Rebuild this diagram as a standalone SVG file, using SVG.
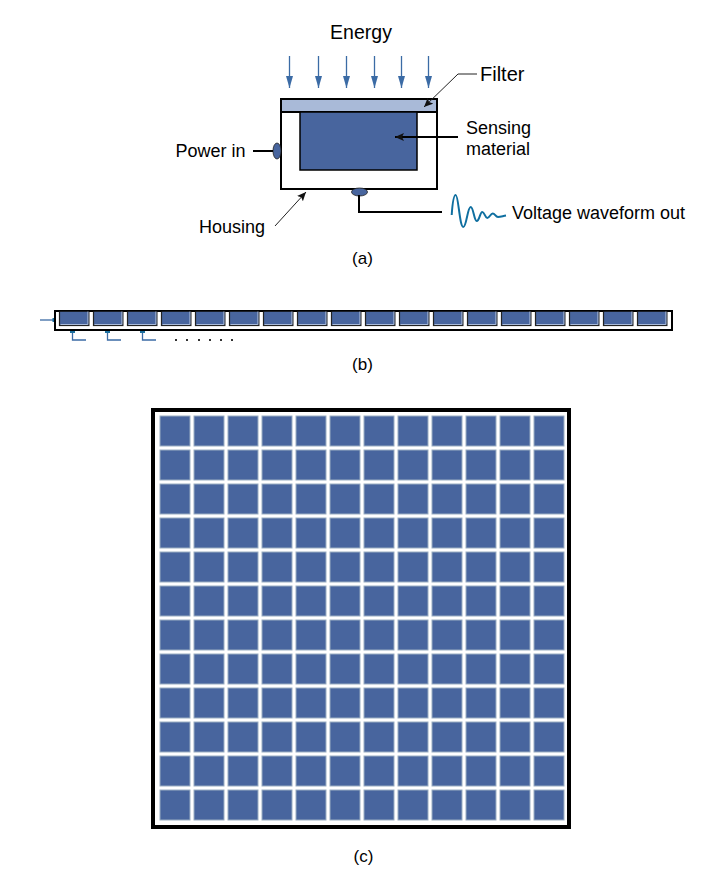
<svg xmlns="http://www.w3.org/2000/svg" xmlns:xlink="http://www.w3.org/1999/xlink" width="728" height="886" viewBox="0 0 728 886">
<style>
text{font-family:"Liberation Sans",Arial,sans-serif;fill:#000}
.l{font-size:18px}
.c{font-size:17px;text-anchor:middle}
.wire{fill:none;stroke:#000;stroke-width:2}
.thin{fill:none;stroke:#222;stroke-width:1}
.blue{fill:none;stroke:#3b6ba5;stroke-width:1.3}
.bcell{fill:#48659e;stroke:#222;stroke-width:1.200}
.bedge{fill:none;stroke:#a9bad8;stroke-width:1}
.ccell{fill:#48659e;stroke:#9aaec2;stroke-width:1}
</style>
<defs>
<marker id="ab" markerUnits="userSpaceOnUse" markerWidth="13" markerHeight="8" refX="12" refY="4" orient="auto" viewBox="0 0 13 8"><path d="M0 0.500 L12 4 L0 7.500 Z" fill="#3b6ba5"/></marker>
<marker id="ak" markerUnits="userSpaceOnUse" markerWidth="10" markerHeight="8" refX="9" refY="4" orient="auto" viewBox="0 0 10 8"><path d="M0 0 L9 4 L0 8 L2 4 Z" fill="#111"/></marker>
<rect id="c" width="30" height="30" class="ccell"/>
<g id="b"><rect width="29.400" height="14.500" class="bcell"/><path class="bedge" d="M1 13.500H28.400V0"/></g>
<g id="row">
<use xlink:href="#c" x="160"/><use xlink:href="#c" x="194"/><use xlink:href="#c" x="228"/><use xlink:href="#c" x="262"/><use xlink:href="#c" x="296"/><use xlink:href="#c" x="330"/><use xlink:href="#c" x="364"/><use xlink:href="#c" x="398"/><use xlink:href="#c" x="432"/><use xlink:href="#c" x="466"/><use xlink:href="#c" x="500"/><use xlink:href="#c" x="534"/>
</g>
</defs>
<rect width="728" height="886" fill="#fff"/>

<g id="housing"><rect x="281" y="99" width="156" height="90" fill="#fff" stroke="#000" stroke-width="2"/></g>
<g id="filter"><rect x="281" y="99" width="156" height="13" fill="#a9bad8" stroke="#000" stroke-width="2"/></g>
<g id="sensing"><rect x="300" y="112" width="117" height="58" fill="#48659e" stroke="#000" stroke-width="1.500"/></g>
<g id="power-port"><ellipse cx="277" cy="151" rx="4" ry="8" fill="#48659e" stroke="#222" stroke-width="0.800"/></g>
<g id="output-port"><ellipse cx="359.500" cy="192" rx="8" ry="4" fill="#48659e" stroke="#222" stroke-width="0.800"/></g>

<g id="connectors">
<path class="blue" d="M289.500 56V88" marker-end="url(#ab)"/>
<path class="blue" d="M318.500 56V88" marker-end="url(#ab)"/>
<path class="blue" d="M346.500 56V88" marker-end="url(#ab)"/>
<path class="blue" d="M374.500 56V88" marker-end="url(#ab)"/>
<path class="blue" d="M401.500 56V88" marker-end="url(#ab)"/>
<path class="blue" d="M428.500 56V88" marker-end="url(#ab)"/>
<path class="thin" d="M477 74H458L424 107" marker-end="url(#ak)"/>
<path class="thin" d="M458 137H395" marker-end="url(#ak)" style="stroke:#000;stroke-width:2"/>
<path class="thin" d="M275 226L306 192" marker-end="url(#ak)"/>
<path class="wire" d="M253 151H273"/>
<path class="wire" d="M359 195V212H442"/>
<path d="M451.700 215C452.500 203 454 195 455.700 195C458.500 195 459.500 227 463.300 227C466.500 227 467.500 207 470.700 207C473.500 207 474 221 476.700 221C479.500 221 480 212 482.300 212C484.500 212 485 218 487.300 218C489.500 218 490.500 213.500 492.700 213.500C495 213.500 495.500 217 498 217C500.500 217 503 216 506 215.500" fill="none" stroke="#0f6fa0" stroke-width="2"/>
<path class="blue" d="M40 320H53"/>
<rect x="52.500" y="318" width="2.500" height="4" fill="#1c6f9e"/>
<path class="blue" d="M72.500 333V340H86M107.500 333V340H121M142.500 333V340H156"/>
<rect x="70" y="331" width="5" height="2" fill="#1c6f9e"/><rect x="105" y="331" width="5" height="2" fill="#1c6f9e"/><rect x="140" y="331" width="5" height="2" fill="#1c6f9e"/>
</g>

<g id="linear-array">
<rect x="55" y="311" width="617" height="19" fill="#fff" stroke="#000" stroke-width="2"/>
<use xlink:href="#b" x="59.500" y="311"/><use xlink:href="#b" x="93.500" y="311"/><use xlink:href="#b" x="127.500" y="311"/><use xlink:href="#b" x="161.500" y="311"/><use xlink:href="#b" x="195.500" y="311"/><use xlink:href="#b" x="229.500" y="311"/><use xlink:href="#b" x="263.500" y="311"/><use xlink:href="#b" x="297.500" y="311"/><use xlink:href="#b" x="331.500" y="311"/><use xlink:href="#b" x="365.500" y="311"/><use xlink:href="#b" x="399.500" y="311"/><use xlink:href="#b" x="433.500" y="311"/><use xlink:href="#b" x="467.500" y="311"/><use xlink:href="#b" x="501.500" y="311"/><use xlink:href="#b" x="535.500" y="311"/><use xlink:href="#b" x="569.500" y="311"/><use xlink:href="#b" x="603.500" y="311"/><use xlink:href="#b" x="637.500" y="311"/>
<rect x="55" y="310" width="617" height="1.500" fill="#000"/>
</g>
<g id="dots" fill="#333"><rect x="175" y="339" width="2" height="2"/><rect x="186" y="339" width="2" height="2"/><rect x="198" y="339" width="2" height="2"/><rect x="209" y="339" width="2" height="2"/><rect x="220" y="339" width="2" height="2"/><rect x="231" y="339" width="2" height="2"/></g>

<g id="area-array">
<rect x="153" y="410" width="416" height="417" fill="#fff" stroke="#000" stroke-width="4"/>
<use xlink:href="#row" y="416"/><use xlink:href="#row" y="450"/><use xlink:href="#row" y="484"/><use xlink:href="#row" y="518"/><use xlink:href="#row" y="552"/><use xlink:href="#row" y="586"/><use xlink:href="#row" y="620"/><use xlink:href="#row" y="654"/><use xlink:href="#row" y="688"/><use xlink:href="#row" y="722"/><use xlink:href="#row" y="756"/><use xlink:href="#row" y="790"/>
</g>

<g id="labels">
<text x="361" y="39" font-size="19.500" text-anchor="middle">Energy</text>
<text x="480" y="81" font-size="20">Filter</text>
<text x="466" y="134" class="l">Sensing</text>
<text x="466" y="155" class="l">material</text>
<text x="175.500" y="157" class="l">Power in</text>
<text x="199" y="233" class="l">Housing</text>
<text x="512" y="219" class="l">Voltage waveform out</text>
<text x="362.500" y="264" class="c">(a)</text>
<text x="362.500" y="370" class="c">(b)</text>
<text x="363.500" y="862" class="c">(c)</text>
</g>
</svg>
